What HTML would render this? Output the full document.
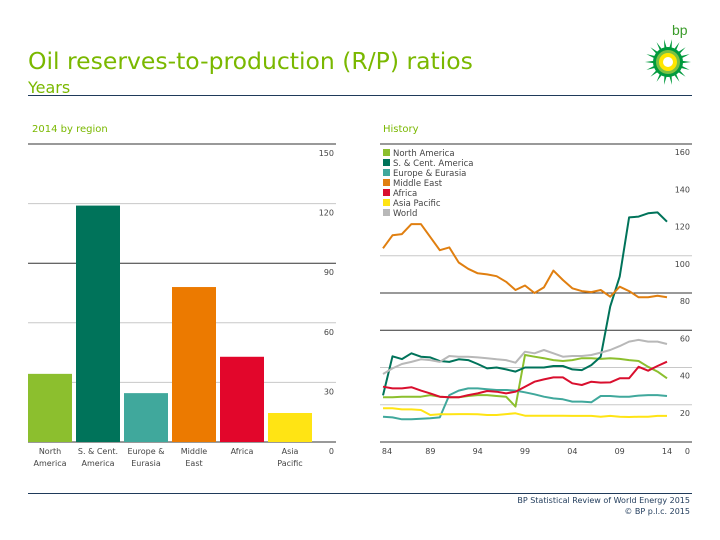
<!DOCTYPE html>
<html><head><meta charset="utf-8">
<style>
html,body{margin:0;padding:0;background:#fff;}
body{width:720px;height:540px;position:relative;overflow:hidden;font-family:"DejaVu Sans","Liberation Sans",sans-serif;}
.t{position:absolute;white-space:nowrap;}
</style></head>
<body>
<div class="t" style="left:28px;top:47px;font-size:23.5px;color:#7ab800;">Oil reserves-to-production (R/P) ratios</div>
<div class="t" style="left:28px;top:78px;font-size:16px;color:#7ab800;">Years</div>
<div style="position:absolute;left:28px;top:95px;width:664px;height:1px;background:#1f3a5a;"></div>
<div class="t" style="left:672px;top:22px;font-size:14px;color:#3a9b2a;font-family:'Liberation Sans',sans-serif;">bp</div>
<svg style="position:absolute;left:644px;top:38px" width="48" height="48" viewBox="-24 -24 48 48" id="logo"></svg>
<div class="t" style="left:32px;top:124px;font-size:10px;color:#7ab800;">2014 by region</div>
<div class="t" style="left:383px;top:124px;font-size:10px;color:#7ab800;">History</div>
<svg id="chart" style="position:absolute;left:0;top:0" width="720" height="540"></svg>
<div style="position:absolute;left:28px;top:493px;width:664px;height:1px;background:#1f3a5a;"></div>
<div class="t" style="right:30px;top:496px;font-size:8px;color:#1f3a5a;">BP Statistical Review of World Energy 2015</div>
<div class="t" style="right:30px;top:507px;font-size:8px;color:#1f3a5a;">© BP p.l.c. 2015</div>
<script>
const barCategories=["North|America","S. & Cent.|America","Europe &|Eurasia","Middle|East","Africa","Asia|Pacific"];
const barValues=[34.3,119,24.6,78,42.9,14.6];
const barColors=["#8cbf2e","#00735a","#40a89c","#ec7a00","#e2062b","#ffe414"];
const barTicks=[0,30,60,90,120,150];
const years=[];for(let y=1984;y<=2014;y++)years.push(y);
const yearTicks=["84","89","94","99","04","09","14"];
const lineTicks=[0,20,40,60,80,100,120,140,160];
const seriesNames=["North America","S. & Cent. America","Europe & Eurasia","Middle East","Africa","Asia Pacific","World"];
const seriesColors=["#8cbf2e","#00735a","#40a89c","#e07f10","#d90f2e","#ffe414","#b8b8b8"];
const northAmerica=[24,24,24.3,24.3,24.3,25.2,24.3,24,24,24.7,25.2,25.2,24.7,24.3,19,46.7,45.8,45,44,43.5,44,45,45,44.6,45,44.6,44,43.5,40.4,37.8,34.2];
const southCentAmerica=[25,46,44.5,47.6,45.8,45.4,43.5,43,44.4,44,41.9,39.5,40,39,37.8,40,40,40,40.8,40.8,39,38.6,41.3,45.8,72.7,88.8,120.6,121,122.8,123.3,118.3];
const europeEurasia=[13.6,13.2,12.2,12.2,12.5,12.7,13.2,25.2,27.6,28.8,28.8,28.3,27.9,27.9,27.6,26.7,25.6,24.3,23.4,22.9,21.7,21.7,21.3,24.7,24.7,24.3,24.3,24.9,25.2,25.2,24.7];
const middleEast=[104,111,111.6,117,117,110,103,104.5,96.4,93,90.6,90,89,86,81.6,84,80,83,92,87,82.5,81,80.5,81.6,78,83.4,81,77.7,77.7,78.5,77.7];
const africa=[29.7,28.8,28.8,29.4,27.6,26.1,24.3,24,24,25.2,26.1,27.4,27,26.1,27,29.7,32.4,33.6,34.7,34.7,31.5,30.6,32.4,31.9,32,34.2,34.2,40.4,38.3,40.8,43.1];
const asiaPacific=[18.1,18.1,17.5,17.5,17.2,14.5,14.9,14.9,15,15,14.9,14.5,14.5,15,15.4,14.1,14.1,14.1,14.1,14.1,14,14,14,13.6,14,13.6,13.4,13.6,13.6,14,14];
const world=[36.5,39.5,41.9,43,44.4,44,43,46.2,45.8,45.8,45.4,45,44.4,44,42.6,48.5,47.6,49.4,47.6,45.8,46.2,46.2,46.7,48,49.4,51.5,53.9,54.8,53.9,53.9,52.6];
const allSeries=[northAmerica,southCentAmerica,europeEurasia,middleEast,africa,asiaPacific,world];

const NS="http://www.w3.org/2000/svg";
const svg=document.getElementById('chart');
function mk(tag,attrs,parent){const e=document.createElementNS(NS,tag);for(const k in attrs)e.setAttribute(k,attrs[k]);(parent||svg).appendChild(e);return e;}
// bar chart
const bY=v=>442-v*(298/150);
const bX=i=>28+i*48;
barTicks.forEach((t,i)=>{
  const dark=(t===0||t===90||t===150);
  const l=mk('line',{x1:28,x2:336,y1:bY(t),y2:bY(t),stroke:dark?'#333':'#c8c8c8','stroke-width':1});
  
  
  const tx=mk('text',{x:334,y:bY(t)+12,'text-anchor':'end','font-size':8,fill:'#444','font-family':'DejaVu Sans, sans-serif'});
  tx.textContent=t;
  
  
});
barValues.forEach((v,i)=>{
  const r=mk('rect',{x:bX(i),y:bY(v),width:44,height:bY(0)-bY(v),fill:barColors[i]});
  
  
  barCategories[i].split('|').forEach((s,j)=>{
    const tx=mk('text',{x:bX(i)+22,y:454+j*12,'text-anchor':'middle','font-size':8,fill:'#444','font-family':'DejaVu Sans, sans-serif'});
    tx.textContent=s;
    
    
  });
});
// line chart
const lX=y=>383+(y-1984)*(284/30);
const lY=v=>442-v*(298/160);
lineTicks.forEach(t=>{
  const dark=(t===0||t===60||t===80||t===160);
  if(t===120||t===140)return;
  const l=mk('line',{x1:380,x2:692,y1:lY(t),y2:lY(t),stroke:dark?'#333':'#c8c8c8','stroke-width':1});
  
  
});
lineTicks.forEach(t=>{
  const tx=mk('text',{x:690,y:t===0?454:lY(t)+11,'text-anchor':'end','font-size':8,fill:'#444','font-family':'DejaVu Sans, sans-serif'});
  tx.textContent=t;
  
  
});
yearTicks.forEach(s=>{
  const yr=parseInt(s,10)<50?2000+parseInt(s,10):1900+parseInt(s,10);
  const tx=mk('text',{x:lX(yr)+(yr===1984?4:0),y:454,'text-anchor':'middle','font-size':8,fill:'#444','font-family':'DejaVu Sans, sans-serif'});
  tx.textContent=s;
  
  
});
allSeries.forEach((d,si)=>{
  const pts=d.map((v,i)=>lX(years[i]).toFixed(1)+','+lY(v).toFixed(1)).join(' ');
  const p=mk('polyline',{points:pts,fill:'none',stroke:seriesColors[si],'stroke-width':2,'stroke-linejoin':'round'});
  
  
});
seriesNames.forEach((n,i)=>{
  const r=mk('rect',{x:383,y:149+i*10,width:7,height:7,fill:seriesColors[i]});
  
  
  const tx=mk('text',{x:393,y:156+i*10,'font-size':8.5,fill:'#444','font-family':'DejaVu Sans, sans-serif'});
  tx.textContent=n;
  
  
});
// logo
const logo=document.getElementById('logo');
for(let i=0;i<18;i++){
  const a=i*Math.PI*2/18;
  const p=document.createElementNS(NS,'polygon');
  const a1=a-0.17,a2=a+0.17;
  p.setAttribute('points',`${(Math.cos(a1)*10).toFixed(1)},${(Math.sin(a1)*10).toFixed(1)} ${(Math.cos(a)*23).toFixed(1)},${(Math.sin(a)*23).toFixed(1)} ${(Math.cos(a2)*10).toFixed(1)},${(Math.sin(a2)*10).toFixed(1)}`);
  p.setAttribute('fill','#009a3d');
  logo.appendChild(p);
}
[[15,'#009a3d'],[12,'#7ac143'],[9,'#ffe600'],[5,'#ffffff']].forEach(c=>{
  const e=document.createElementNS(NS,'circle');e.setAttribute('r',c[0]);e.setAttribute('fill',c[1]);logo.appendChild(e);
});
</script>
</body></html>
